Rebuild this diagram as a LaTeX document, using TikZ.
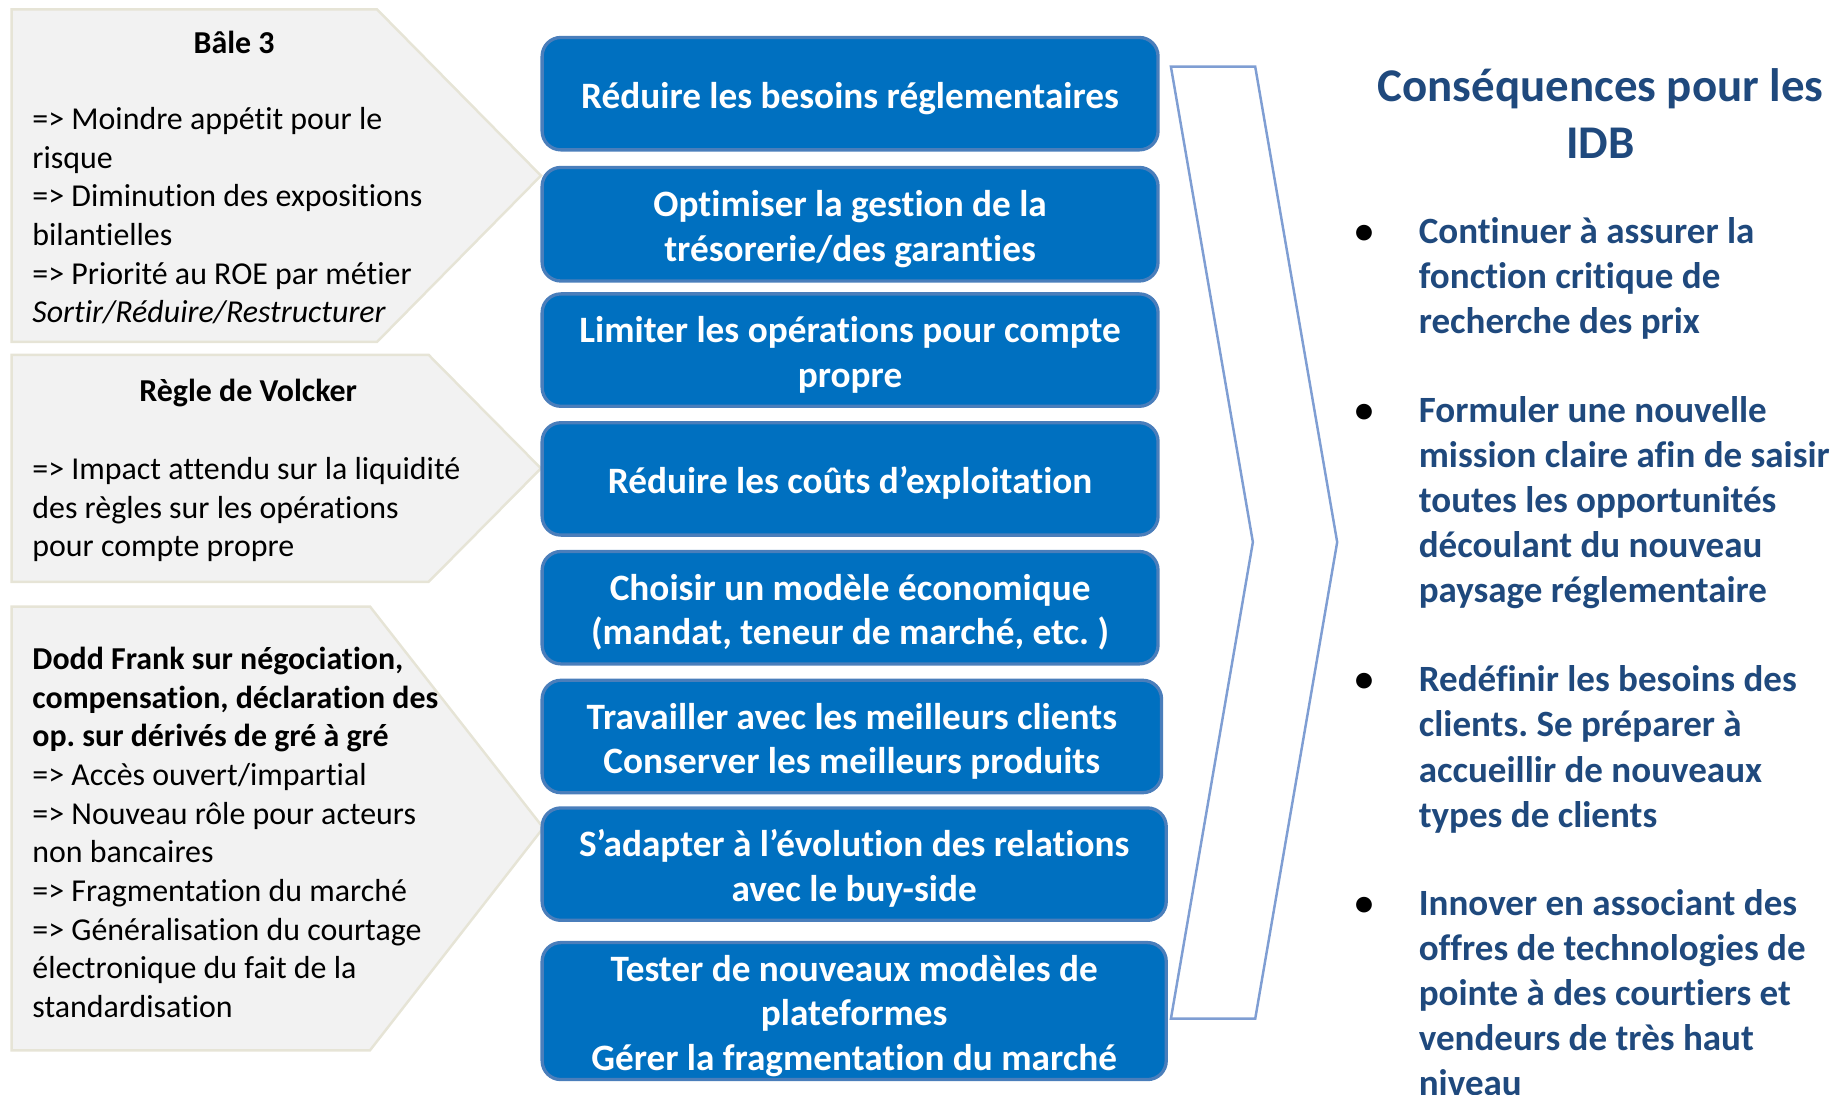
\documentclass[tikz,border=0pt]{standalone}
\usepackage{fontspec}
\setmainfont{Carlito}[Ligatures=NoCommon]
\frenchspacing

\definecolor{boxblue}{HTML}{0070C0}
\definecolor{boxline}{HTML}{4A7EBB}
\definecolor{chevline}{HTML}{7F9ED3}
\definecolor{leftfill}{HTML}{F2F2F2}
\definecolor{leftline}{HTML}{E6E4D6}
\definecolor{titleblue}{HTML}{1F497D}

\newcommand{\boxfont}{\fontsize{9.05pt}{10.81pt}\selectfont\bfseries}
\newcommand{\leftfont}{\fontsize{7.75pt}{9.39pt}\selectfont}
\newcommand{\rightfont}{\fontsize{9pt}{10.95pt}\selectfont\bfseries}
\newcommand{\titlefont}{\fontsize{11.4pt}{13.94pt}\selectfont\bfseries}
\newcommand{\lift}{\rule{0pt}{8.6pt}}

\begin{document}
\begin{tikzpicture}[x=0.1mm, y=-0.1mm,
    bluebox/.style={draw=boxline, line width=0.8pt, fill=boxblue,
        rounded corners=1.6mm, text=white, font=\boxfont, align=center,
        inner sep=0pt, minimum width=52.6mm, minimum height=9.6mm},
    leftshape/.style={fill=leftfill, draw=leftline, line width=0.6pt},
    lefttext/.style={anchor=north west, inner sep=0pt, align=left, font=\leftfont},
    lefthead/.style={inner sep=0pt, font=\leftfont\bfseries},
    itemtext/.style={anchor=north west, inner sep=0pt, align=left,
        font=\rightfont, text=titleblue},
    itemdot/.style={inner sep=0pt, font=\rightfont},
    chevron/.style={draw=chevline, line width=0.6pt}]

\useasboundingbox (0,0) rectangle (1568,935);

% Left arrows
\path[leftshape] (10,8) -- (322,8) -- (462,150) -- (322,292) -- (10,292) -- cycle;
\path[leftshape] (10,303) -- (366,303) -- (462,400) -- (366,497) -- (10,497) -- cycle;
\path[leftshape] (10,518) -- (316,518) -- (464,707) -- (316,897) -- (10,897) -- cycle;

% Bale 3
\node [lefthead] (bale) at (200,36) {Bâle 3};
\node [lefttext] (baletext) at (27,91) {=> Moindre appétit pour le\\risque\\
    => Diminution des expositions\\bilantielles\\
    => Priorité au ROE par métier\\\textit{Sortir/Réduire/Restructurer}};

% Volcker
\node [lefthead] (volcker) at (212,336) {Règle de Volcker};
\node [lefttext] (volckertext) at (27,390) {=> Impact attendu sur la liquidité\\
    des règles sur les opérations\\pour compte propre};

% Dodd Frank
\node [lefttext] (doddtext) at (27,552) {\textbf{Dodd Frank sur négociation,}\\
    \textbf{compensation, déclaration des}\\
    \textbf{op. sur dérivés de gré à gré}\\
    => Accès ouvert/impartial\\
    => Nouveau rôle pour acteurs\\non bancaires\\
    => Fragmentation du marché\\
    => Généralisation du courtage\\
    électronique du fait de la\\standardisation};

% Middle column
\node [bluebox] (b1) at (726,80) {\lift Réduire les besoins réglementaires};
\node [bluebox, minimum height=9.7mm] (b2) at (726,191.5) {\lift Optimiser la gestion de la\\trésorerie/des garanties};
\node [bluebox] (b3) at (726,299) {\lift Limiter les opérations pour compte\\propre};
\node [bluebox] (b4) at (726,409) {\lift Réduire les coûts d’exploitation};
\node [bluebox] (b5) at (726,519) {\lift Choisir un modèle économique\\(mandat, teneur de marché, etc. )};
\node [bluebox, minimum width=52.9mm] (b6) at (727.5,629) {\lift Travailler avec les meilleurs clients\\Conserver les meilleurs produits};
\node [bluebox, minimum width=53.3mm] (b7) at (729.5,738) {\lift S’adapter à l’évolution des relations\\avec le buy-side};
\node [bluebox, minimum width=53.3mm, minimum height=11.7mm] (b8) at (729.5,863.5) {\lift Tester de nouveaux modèles de\\plateformes\\Gérer la fragmentation du marché};

% Chevron
\draw[chevron] (1000,57) -- (1072,57) -- (1142,463) -- (1072,870) -- (1000,870) -- (1070,463) -- cycle;

% Right column
\node [font=\titlefont, text=titleblue, align=center, inner sep=0pt] (title) at (1367,97) {Conséquences pour les\\IDB};

\node [itemdot] (d1) at (1165,200) {•};
\node [itemtext] (t1) at (1211,185) {Continuer à assurer la\\fonction critique de\\recherche des prix};
\node [itemdot] (d2) at (1165,353) {•};
\node [itemtext] (t2) at (1211,338) {Formuler une nouvelle\\mission claire afin de saisir\\toutes les opportunités\\découlant du nouveau\\paysage réglementaire};
\node [itemdot] (d3) at (1165,583) {•};
\node [itemtext] (t3) at (1211,568) {Redéfinir les besoins des\\clients. Se préparer à\\accueillir de nouveaux\\types de clients};
\node [itemdot] (d4) at (1165,774) {•};
\node [itemtext] (t4) at (1211,759) {Innover en associant des\\offres de technologies de\\pointe à des courtiers et\\vendeurs de très haut\\niveau};

\end{tikzpicture}
\end{document}
